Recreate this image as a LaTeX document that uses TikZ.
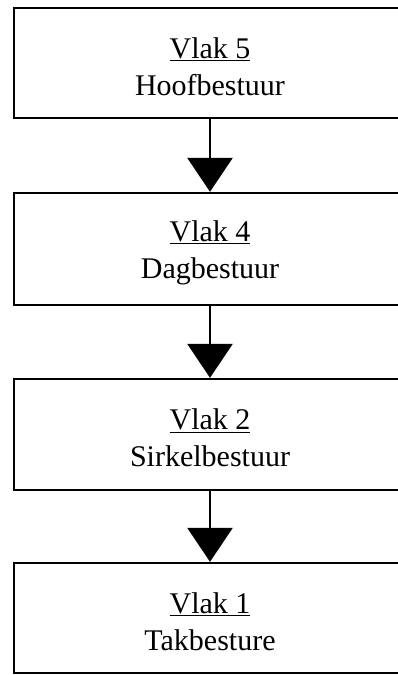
\documentclass[tikz,border=0pt]{standalone}
\usepackage{fontspec}
\setmainfont{Liberation Serif}
\usetikzlibrary{arrows.meta}
\newcommand{\topstrut}{\rule{0pt}{28pt}}

\begin{document}
\begin{tikzpicture}
  [x=1pt,y=1pt,every node/.style={draw,rectangle,line width=2.4pt,minimum width=392pt,
   align=center,font=\fontsize{30}{37}\selectfont},
   levelbox/.style={minimum height=110pt}]
  \useasboundingbox (0,0) rectangle (397,-675);
  \node[levelbox] (v5) at (210,-63)  {\topstrut\underline{Vlak 5}\\Hoofbestuur};
  \node[levelbox,minimum height=112pt] (v4) at (210,-249) {\topstrut\underline{Vlak 4}\\Dagbestuur};
  \node[levelbox,minimum height=111pt] (v2) at (210,-434.5) {\topstrut\underline{Vlak 2}\\Sirkelbestuur};
  \node[levelbox] (v1) at (210,-618) {\topstrut\underline{Vlak 1}\\Takbesture};

  \foreach \from/\to in {v5/v4,v4/v2,v2/v1}
    \draw[line width=2.8pt,-{Triangle[width=45pt,length=34pt]}] (\from) -- (\to);

\end{tikzpicture}
\end{document}
